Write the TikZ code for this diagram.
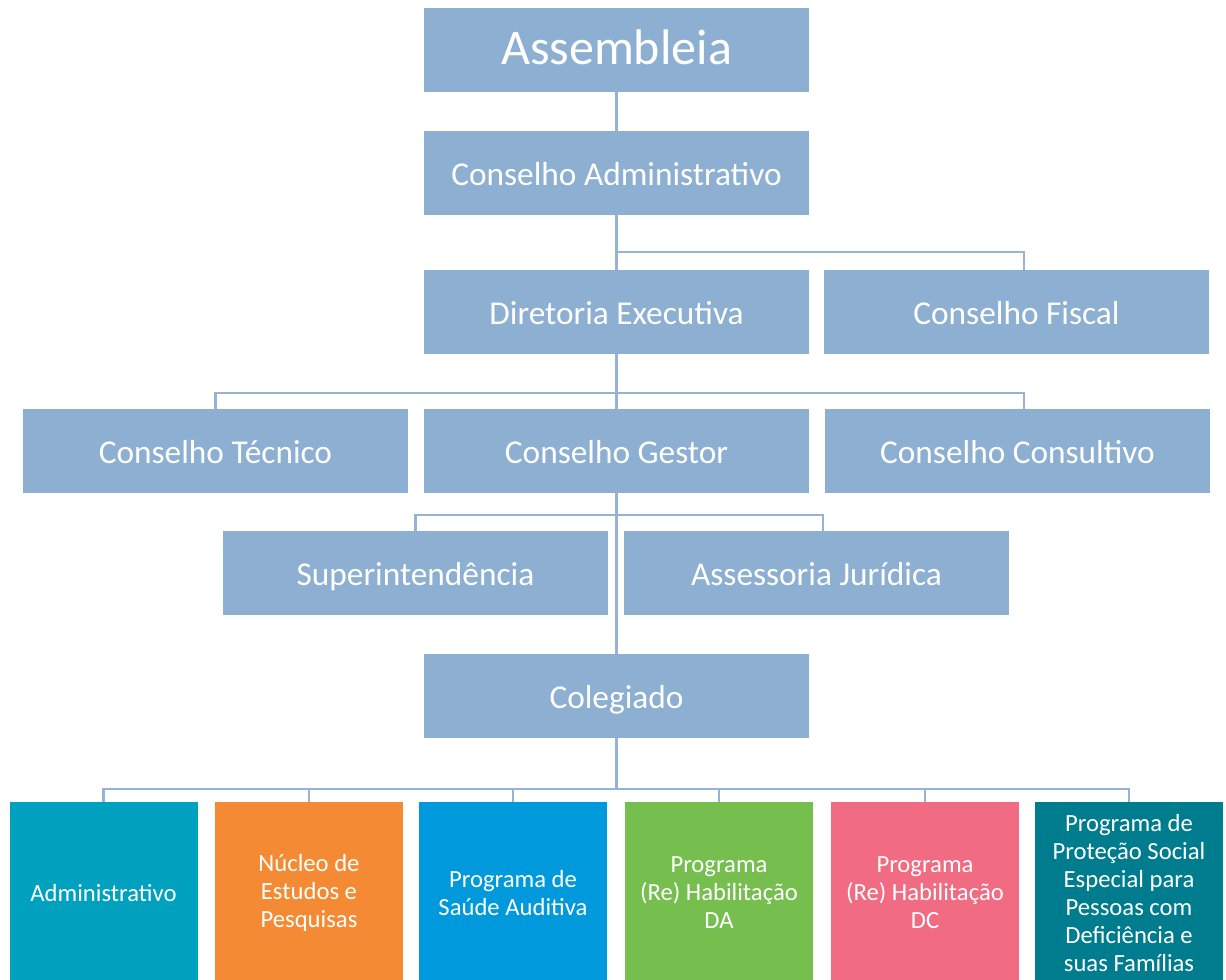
\documentclass[tikz,border=0pt]{standalone}
\usepackage{fontspec}
\setmainfont{Carlito}
\usetikzlibrary{positioning}
\definecolor{azulcaixa}{HTML}{8CAFD2}
\definecolor{azullinha}{HTML}{95B3D7}
\definecolor{corAdm}{HTML}{00A1BE}
\definecolor{corNucleo}{HTML}{F48A33}
\definecolor{corSaude}{HTML}{009ADC}
\definecolor{corDA}{HTML}{76BF4F}
\definecolor{corDC}{HTML}{F16B82}
\definecolor{corProtecao}{HTML}{007C8F}
\tikzset{
  % caixas azuis da diretoria e conselhos
  caixa/.style={fill=azulcaixa, text=white, minimum width=288.75pt,
    minimum height=63pt, inner sep=0pt, text height=23pt, text depth=5pt,
    font=\fontsize{25}{30}\selectfont},
  % caixas coloridas dos programas
  programa/.style={fill=#1, text=white, minimum width=141pt,
    minimum height=136.5pt, inner sep=0pt, align=center,
    font=\fontsize{18.5}{21}\selectfont},
  ligacao/.style={draw=azullinha, line width=1.6pt}
}

\begin{document}
\begin{tikzpicture}[x=0.75pt, y=-0.75pt]
  \useasboundingbox (0,0) rectangle (1226,979);

  % topo
  \node[caixa, text height=28pt, text depth=7pt,
        font=\fontsize{37.5}{40}\selectfont] (asm) at (616.5,50) {Assembleia};
  \node[caixa] (cadm) at (616.5,173) {Conselho Administrativo};
  \node[caixa] (dir) at (616.5,312) {Diretoria Executiva};
  \node[caixa] (fiscal) at (1016.5,312) {Conselho Fiscal};

  % conselhos
  \node[caixa] (tecnico) at (215.5,451) {Conselho Técnico};
  \node[caixa] (gestor) at (616.5,451) {Conselho Gestor};
  \node[caixa] (consultivo) at (1017.5,451) {Conselho Consultivo};

  \node[caixa] (super) at (415.5,573) {Superintendência};
  \node[caixa] (assess) at (816.5,573) {Assessoria Jurídica};
  \node[caixa] (coleg) at (616.5,696) {Colegiado};

  % programas
  \node[programa=corAdm] (p1) at (103.5,893) {Administrativo};
  \node[programa=corNucleo] (p2) at (309,893) {Núcleo de\\Estudos e\\Pesquisas};
  \node[programa=corSaude] (p3) at (513,893) {Programa de\\Saúde Auditiva};
  \node[programa=corDA] (p4) at (719,893) {Programa\\(Re) Habilitação\\DA};
  \node[programa=corDC] (p5) at (925,893) {Programa\\(Re) Habilitação\\DC};
  \node[programa=corProtecao] (p6) at (1129,893) {Programa de\\Proteção Social\\Especial para\\Pessoas com\\Deficiência e\\suas Famílias};

  % ligacoes
  \draw[ligacao] (asm) -- (cadm);
  \draw[ligacao] (cadm) -- (dir);
  \draw[ligacao] (cadm.south) -- ++(0,37) -| ([xshift=5.6pt]fiscal.north);

  \draw[ligacao] (dir) -- (gestor);
  \draw[ligacao] (dir.south) -- ++(0,39) coordinate (ramo1);
  \draw[ligacao] (ramo1) -| (tecnico.north);
  \draw[ligacao] (ramo1) -| ([xshift=4.9pt]consultivo.north);

  \draw[ligacao] (gestor) -- (coleg);
  \draw[ligacao] (gestor.south) -- ++(0,22) coordinate (ramo2);
  \draw[ligacao] (ramo2) -| (super.north);
  \draw[ligacao] (ramo2) -| ([xshift=4.9pt]assess.north);

  \draw[ligacao] (coleg.south) -- ++(0,51) coordinate (ramo3);
  \foreach \i in {1,...,6}
    \draw[ligacao] (ramo3) -| (p\i.north);
\end{tikzpicture}
\end{document}
